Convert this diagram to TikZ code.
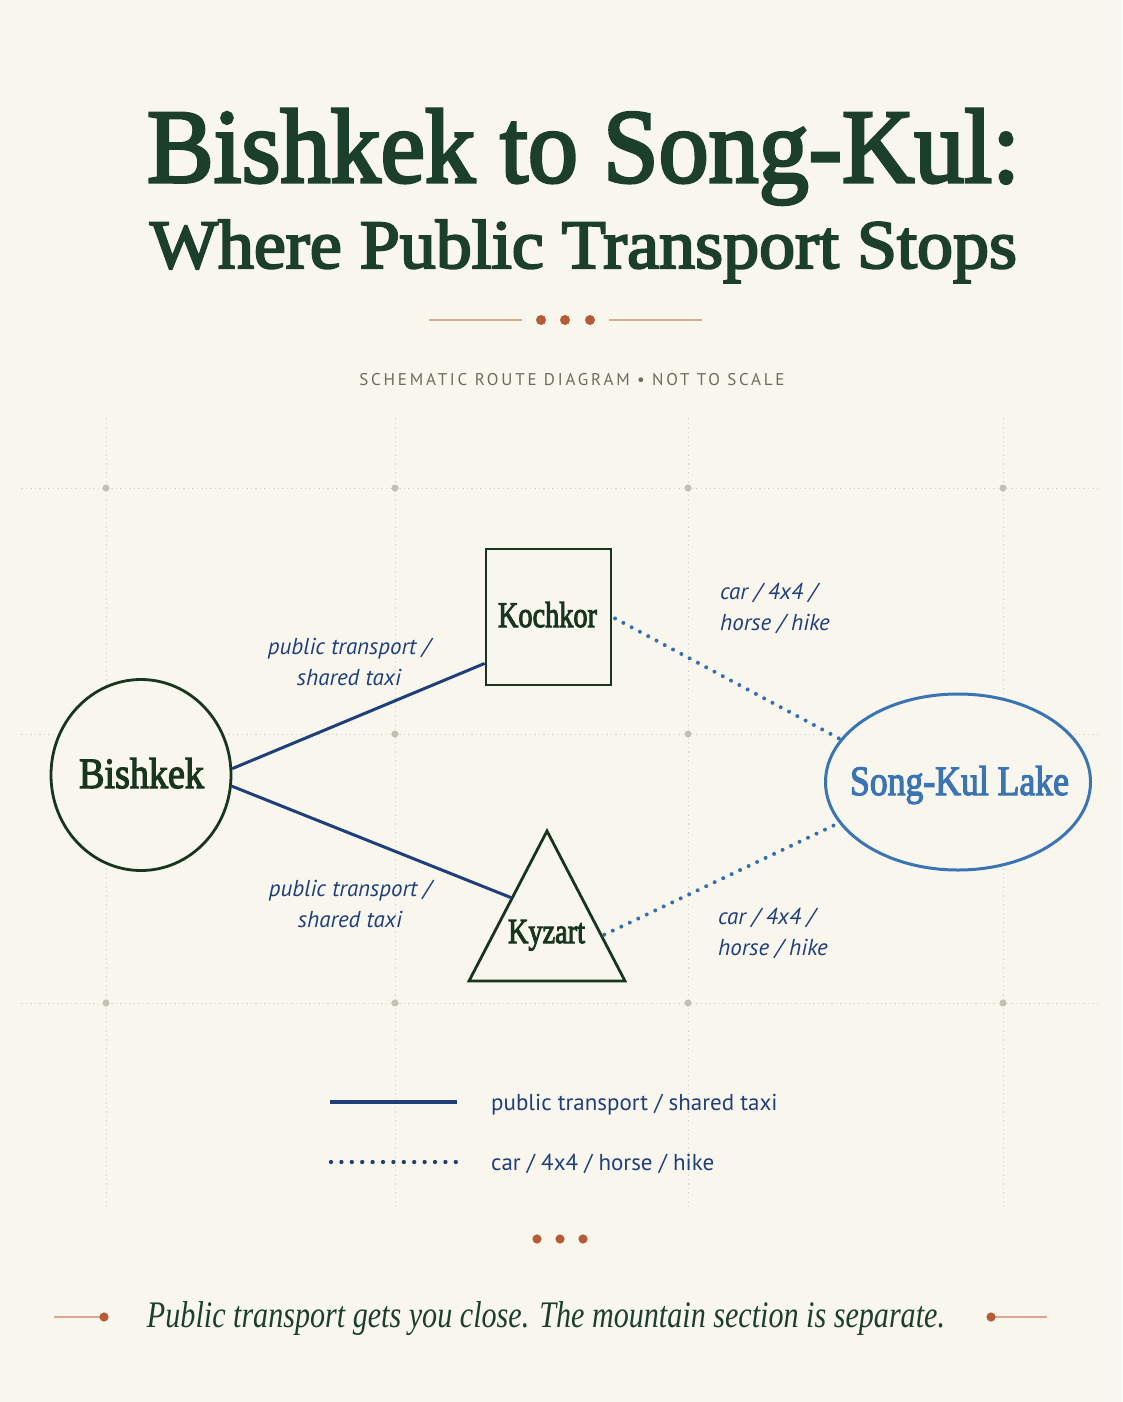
\documentclass[tikz,border=0pt]{standalone}
\usepackage{fontspec}
\usepackage{graphicx}
\setmainfont{Liberation Serif}
\newfontfamily\semib[FakeBold=3]{Liberation Serif}
\newfontfamily\labelfont{PT Sans}
\newfontfamily\subfont[LetterSpace=16.5]{PT Sans}
\usetikzlibrary{calc,shapes.geometric}
\definecolor{bg}{HTML}{F9F6EE}
\definecolor{titlegreen}{HTML}{1B3F29}
\definecolor{nodegreen}{HTML}{17351F}
\definecolor{navy}{HTML}{1E3F7A}
\definecolor{dotblue}{HTML}{3570AE}
\definecolor{lakeblue}{HTML}{3B74B3}
\definecolor{orangedot}{HTML}{B55B36}
\definecolor{orangeline}{HTML}{DCA890}
\definecolor{subgray}{HTML}{6A6E5E}
\definecolor{gridc}{HTML}{DCD8CC}
\definecolor{griddot}{HTML}{C2BFB5}
\begin{document}
\begin{tikzpicture}[x=1pt,y=-1pt,
  gridline/.style={draw=gridc, line width=1pt, dash pattern=on 1.5pt off 3pt},
  placebox/.style={draw=nodegreen, line width=2.8pt, fill=bg, inner sep=0pt},
  nodetext/.style={text=nodegreen, inner sep=0pt, anchor=base},
  solidroute/.style={draw=navy, line width=3pt},
  dotroute/.style={draw=dotblue, line width=4pt, line cap=round, dash pattern=on 0pt off 9.4pt},
  edgelabel/.style={text=navy, inner sep=0pt, font=\labelfont\itshape\fontsize{23}{31}\selectfont},
  legendtext/.style={text=navy, inner sep=0pt, anchor=base west, font=\labelfont\fontsize{23}{26}\selectfont},
  ornline/.style={draw=orangeline, line width=1.3pt}
]
\fill[bg] (0,0) rectangle (1122,1402);
\useasboundingbox (0,0) rectangle (1122,1402);

% title
\node[anchor=base, text=titlegreen, inner sep=0pt] (title1) at (583.5,182)
  {\resizebox{873pt}{73pt}{\fontsize{100}{100}\selectfont\semib Bishkek to Song-Kul:}};
\node[anchor=base, text=titlegreen, inner sep=0pt] (title2) at (583.5,268)
  {\resizebox{867pt}{48pt}{\fontsize{100}{100}\selectfont\semib Where Public Transport Stops}};

% divider
\draw[ornline] (429,320) -- (522,320);
\draw[ornline] (609,320) -- (702,320);
\foreach \x in {541,565,590} \fill[orangedot] (\x,320) circle (5pt);

% subtitle
\node[anchor=base, text=subgray, inner sep=0pt, font=\subfont\fontsize{17}{17}\selectfont] (subtitle) at (572,385.5)
  {SCHEMATIC ROUTE DIAGRAM • NOT TO SCALE};

% grid
\foreach \x in {106,395,688,1003} \draw[gridline] (\x,418) -- (\x,1208);
\foreach \y in {488,734,1003} \draw[gridline] (21,\y) -- (1101,\y);
\foreach \x in {106,395,688,1003} \foreach \y in {488,734,1003} \fill[griddot] (\x,\y) circle (3.5pt);

% places
\node[placebox, ellipse, minimum width=180pt, minimum height=191pt] (bishkek) at (141,775) {};
\node[placebox, rectangle, minimum width=125pt, minimum height=136pt] (kochkor) at (548.5,617) {};
\coordinate (kzA) at (547,831);
\coordinate (kzB) at (469,981);
\coordinate (kzC) at (625,981);
\draw[placebox, line join=miter] (kzA) -- (kzB) -- (kzC) -- cycle;
\coordinate (kyzartW) at ($(kzA)!0.447!(kzB)$);
\coordinate (kyzartE) at ($(kzA)!0.70!(kzC)$);
\node[ellipse, draw=lakeblue, line width=3pt, fill=bg, inner sep=0pt, minimum width=265pt, minimum height=176pt] (songkul) at (958,782) {};

% place names
\node[nodetext] (bishkektext) at (141.5,788) {\resizebox{125pt}{30pt}{\fontsize{40}{40}\selectfont\semib Bishkek}};
\node[nodetext] (kochkortext) at (547.5,627) {\resizebox{99pt}{25pt}{\fontsize{34}{34}\selectfont\semib Kochkor}};
\node[nodetext] (kyzarttext) at (546.5,943) {\resizebox{77pt}{23pt}{\fontsize{34}{34}\selectfont\semib Kyzart}};
\node[nodetext, text=lakeblue] (songkultext) at (959.5,795) {\resizebox{219pt}{29pt}{\fontsize{40}{40}\selectfont\semib Song-Kul Lake}};

% routes
\draw[solidroute] (bishkek.4) -- (kochkor.216);
\draw[solidroute] (bishkek.-7) -- (kyzartW);
\draw[dotroute, shorten <=3pt] (kochkor.east) -- (songkul.160);
\draw[dotroute, shorten <=3pt] (kyzartE) -- (songkul.199);

% route labels
\node[edgelabel, align=center] (lab1) at (349,662) {public transport /\\shared taxi};
\node[edgelabel, align=center] (lab2) at (350,904) {public transport /\\shared taxi};
\node[edgelabel, align=left, anchor=west] (lab3) at (720,608) {car / 4x4 /\\horse / hike};
\node[edgelabel, align=left, anchor=west] (lab4) at (718,933) {car / 4x4 / \\horse / hike};

% legend
\coordinate (leg1a) at (330,1102);
\coordinate (leg1b) at (457,1102);
\draw[solidroute, line width=3.5pt] (leg1a) -- (leg1b);
\node[legendtext] (leg1t) at (491,1110) {public transport / shared taxi};
\coordinate (leg2a) at (331,1162);
\coordinate (leg2b) at (456,1162);
\draw[draw=navy, line width=4.3pt, line cap=round, dash pattern=on 0pt off 10.4pt] (leg2a) -- (leg2b);
\node[legendtext] (leg2t) at (491,1170) {car / 4x4 / horse / hike};

% lower dots
\foreach \x in {537,560,583} \fill[orangedot] (\x,1239) circle (4.6pt);

% closing line
\draw[ornline] (54,1317) -- (104,1317);
\fill[orangedot] (104,1317) circle (4.6pt);
\draw[ornline] (991,1317) -- (1047,1317);
\fill[orangedot] (991,1317) circle (4.6pt);
\node[anchor=base, text=titlegreen, inner sep=0pt] (closing) at (546,1327)
  {\resizebox{798pt}{26pt}{\fontsize{36}{36}\selectfont\itshape Public transport gets you close. The mountain section is separate.}};
\end{tikzpicture}
\end{document}
